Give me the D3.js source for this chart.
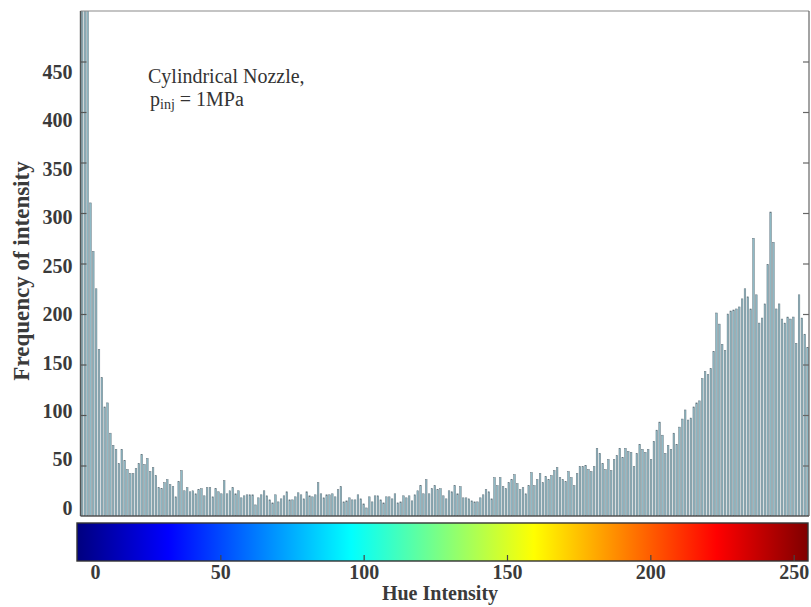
<!DOCTYPE html>
<html>
<head>
<meta charset="utf-8">
<script src="https://cdn.jsdelivr.net/npm/d3@7"></script>
<style>
  html, body { margin: 0; padding: 0; background: #ffffff; }
  svg { display: block; }
  .lbl { font-family: "Liberation Serif", "Times New Roman", serif; font-weight: bold; fill: #3a3a3a; }
</style>
</head>
<body>
<script>
// ---------------- data ----------------
const intensityBins = d3.range(256); // hue intensity categories 0..255
const frequency = [
  620, 580, 560, 310, 262, 225, 165, 137, 108, 112,
  82, 70, 66, 52, 66, 55, 46, 42, 42, 47,
  52, 61, 51, 57, 44, 48, 40, 28, 27, 33,
  36, 31, 29, 19, 34, 45, 25, 28, 24, 25,
  22, 26, 27, 20, 28, 28, 19, 27, 24, 22,
  35, 22, 25, 28, 22, 25, 18, 20, 21, 21,
  21, 11, 18, 21, 25, 20, 16, 13, 21, 14,
  17, 20, 24, 16, 16, 19, 23, 21, 17, 24,
  20, 19, 21, 33, 22, 18, 21, 21, 22, 19,
  26, 29, 14, 15, 18, 16, 16, 21, 17, 12,
  8, 19, 14, 20, 20, 16, 13, 19, 19, 17,
  22, 13, 14, 20, 18, 20, 15, 21, 25, 30,
  22, 36, 22, 27, 30, 26, 27, 20, 17, 25,
  24, 30, 22, 29, 18, 18, 17, 15, 14, 14,
  18, 21, 26, 24, 17, 38, 30, 38, 29, 27,
  33, 36, 41, 32, 26, 28, 22, 30, 43, 30,
  36, 42, 33, 39, 36, 40, 45, 48, 38, 36,
  34, 44, 38, 30, 42, 49, 49, 50, 46, 44,
  49, 67, 62, 52, 46, 56, 45, 56, 60, 67,
  58, 67, 64, 63, 49, 62, 71, 66, 63, 66,
  56, 74, 85, 93, 80, 62, 70, 66, 82, 71,
  88, 96, 105, 95, 97, 108, 112, 114, 136, 143,
  140, 146, 163, 201, 190, 170, 164, 200, 203, 204,
  205, 207, 215, 225, 217, 205, 275, 219, 191, 196,
  210, 249, 301, 271, 205, 210, 195, 191, 197, 195,
  197, 171, 219, 196, 180, 167
];
const yTickValues = [0, 50, 100, 150, 200, 250, 300, 350, 400, 450];
const cbTickValues = [0, 50, 100, 150, 200, 250];
const jetStops = [[0, "#00007f"], [0.125, "#0000ff"], [0.375, "#00ffff"], [0.625, "#ffff00"], [0.875, "#ff0000"], [1, "#7f0000"]];
const annotationLine1 = "Cylindrical Nozzle,";
const xTitle = "Hue Intensity";
const yTitle = "Frequency of intensity";

// ---------------- layout ----------------
const W = 811, H = 607;
const plot = { left: 80.5, right: 809, top: 11, bottom: 516 };
const cb = { left: 77, right: 808, top: 523, bottom: 561 };

const svg = d3.select("body").append("svg").attr("width", W).attr("height", H);

const x = d3.scaleLinear().domain([-0.5, 255.5]).range([plot.left, plot.right]);
const y = d3.scaleLinear().domain([0, 500]).range([plot.bottom, plot.top]);
const yLabelScale = d3.scaleLinear().domain([0, 450]).range([508, 72]);
const cbScale = d3.scaleLinear().domain([0, 255]).range([cb.left, cb.right]);

// clip
svg.append("clipPath").attr("id", "plotClip")
  .append("rect").attr("x", plot.left).attr("y", plot.top)
  .attr("width", plot.right - plot.left).attr("height", plot.bottom - plot.top);

// bars
const barW = 1.6;
svg.append("g").attr("clip-path", "url(#plotClip)")
  .selectAll("rect").data(intensityBins).join("rect")
  .attr("x", d => x(d) - barW / 2)
  .attr("y", d => y(frequency[d]))
  .attr("width", barW)
  .attr("height", d => y(0) - y(frequency[d]))
  .attr("fill", "#8fbac6")
  .attr("stroke", "#66767f")
  .attr("stroke-width", 0.5);

// frame
const frame = svg.append("g").attr("fill", "none");
frame.append("line").attr("x1", plot.left).attr("x2", plot.right).attr("y1", plot.top).attr("y2", plot.top)
  .attr("stroke", "#8a8a8a").attr("stroke-width", 1.2);
frame.append("line").attr("x1", plot.right).attr("x2", plot.right).attr("y1", plot.top).attr("y2", plot.bottom)
  .attr("stroke", "#666").attr("stroke-width", 1.2);
frame.append("line").attr("x1", plot.left).attr("x2", plot.left).attr("y1", plot.top).attr("y2", plot.bottom)
  .attr("stroke", "#555").attr("stroke-width", 1.4);
frame.append("line").attr("x1", plot.left).attr("x2", plot.right).attr("y1", plot.bottom).attr("y2", plot.bottom)
  .attr("stroke", "#555").attr("stroke-width", 1.6);

// left ticks (inward)
const leftTicks = svg.append("g").attr("transform", `translate(${plot.left},0)`)
  .call(d3.axisRight(y).tickValues(yTickValues.slice(1)).tickSize(6).tickFormat(""));
leftTicks.select(".domain").remove();
leftTicks.selectAll("line").attr("stroke", "#555").attr("stroke-width", 1.2);

// right ticks (inward)
const rightTicks = svg.append("g").attr("transform", `translate(${plot.right},0)`)
  .call(d3.axisLeft(y).tickValues(yTickValues.slice(1)).tickSize(6).tickFormat(""));
rightTicks.select(".domain").remove();
rightTicks.selectAll("line").attr("stroke", "#666").attr("stroke-width", 1.2);

// y tick labels
const yLab = svg.append("g").attr("transform", `translate(${plot.left},0)`)
  .call(d3.axisLeft(yLabelScale).tickValues(yTickValues).tickSize(0).tickPadding(8));
yLab.select(".domain").remove();
yLab.selectAll("text").attr("class", "lbl").style("font-size", "20px")
  .attr("font-family", null).attr("font-size", null);

// y title
svg.append("text").attr("class", "lbl")
  .attr("transform", "translate(29,271) rotate(-90)")
  .attr("text-anchor", "middle")
  .style("font-size", "23px")
  .text(yTitle);

// annotation
const ann = svg.append("g").style("font-family", '"Liberation Serif", "Times New Roman", serif').attr("fill", "#333");
ann.append("text").attr("x", 148).attr("y", 83).style("font-size", "20px").text(annotationLine1);
const l2 = ann.append("text").attr("x", 150).attr("y", 106).style("font-size", "20px");
l2.append("tspan").text("p");
l2.append("tspan").attr("dy", 3).style("font-size", "14px").text("inj");
l2.append("tspan").attr("dy", -3).text(" = 1MPa");

// colorbar
const grad = svg.append("defs").append("linearGradient").attr("id", "jet")
  .attr("x1", "0%").attr("x2", "100%").attr("y1", "0%").attr("y2", "0%");
grad.selectAll("stop").data(jetStops).join("stop")
  .attr("offset", d => d[0]).attr("stop-color", d => d[1]);
svg.append("rect").attr("x", cb.left).attr("y", cb.top)
  .attr("width", cb.right - cb.left).attr("height", cb.bottom - cb.top)
  .attr("fill", "url(#jet)").attr("stroke", "#333").attr("stroke-width", 1.4);

const cbAxis = svg.append("g").attr("transform", `translate(0,${cb.bottom})`)
  .call(d3.axisBottom(cbScale).tickValues(cbTickValues).tickSizeInner(-6).tickSizeOuter(0).tickPadding(4));
cbAxis.select(".domain").remove();
cbAxis.selectAll("line").attr("stroke", "#444").attr("stroke-width", 1.2)
  .attr("opacity", d => d === 0 ? 0 : 1);
cbAxis.selectAll("text").attr("class", "lbl").style("font-size", "20px")
  .attr("dx", d => d === 0 ? 18 : 0);

// x title
svg.append("text").attr("class", "lbl")
  .attr("x", 440).attr("y", 600).attr("text-anchor", "middle")
  .style("font-size", "20px").text(xTitle);
</script>
</body>
</html>
